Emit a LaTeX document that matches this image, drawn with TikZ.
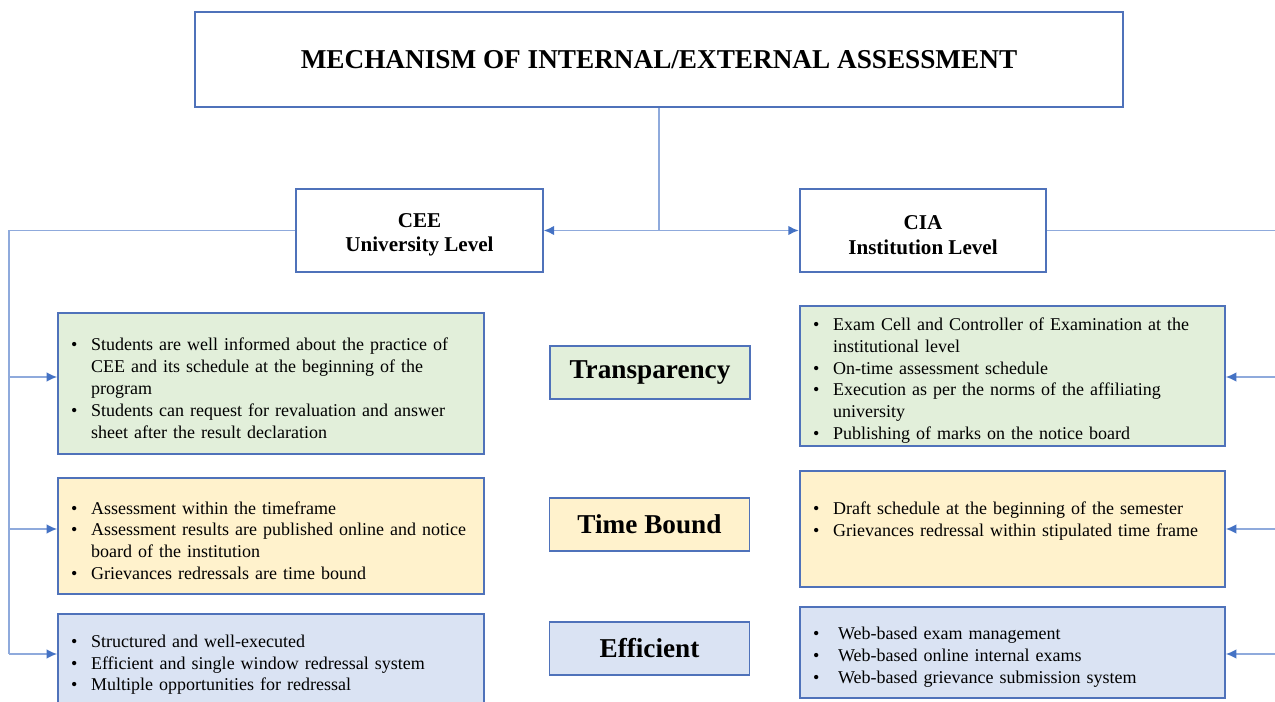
\documentclass[tikz,border=0pt]{standalone}
\usepackage{fontspec}
\setmainfont{Liberation Serif}
\usepackage{enumitem}
\usetikzlibrary{arrows.meta}
\definecolor{edgec}{RGB}{79,114,186}
\definecolor{linkc}{RGB}{143,170,220}
\definecolor{tipc}{RGB}{68,114,196}
\definecolor{grn}{RGB}{226,239,218}
\definecolor{ylw}{RGB}{255,242,204}
\definecolor{blu}{RGB}{218,227,243}
\setlist[itemize]{nosep,label=\textbullet,leftmargin=0.66cm,labelsep=0.27cm}

\begin{document}
\begin{tikzpicture}[x=0.02cm,y=-0.02cm,>={Latex[length=6pt,width=5.5pt,color=tipc]},
    lbl/.style={draw=edgec,line width=1pt,font=\fontsize{15.5}{18}\selectfont\bfseries,minimum width=4cm,minimum height=1.06cm},
    head/.style={draw=edgec,line width=1.1pt,font=\fontsize{12}{14}\selectfont\bfseries,align=center,minimum width=4.93cm,minimum height=1.66cm},
    info/.style={draw=edgec,line width=1pt,inner sep=0pt,align=left,font=\fontsize{10.25}{12.47}\selectfont},
    link/.style={draw=linkc,line width=1pt}]
        \path[use as bounding box] (0,0) rectangle (1275,702);
        \clip (0,0) rectangle (1275,702);

        \node[draw=edgec,line width=1.1pt,minimum width=18.56cm,minimum height=1.9cm,font=\fontsize{15.5}{18}\selectfont\bfseries] (mech) at (659,59.5) {MECHANISM OF INTERNAL/EXTERNAL ASSESSMENT};
        \node[head] (cee) at (419.5,230.5) {\rule{0pt}{13pt}CEE\\University Level};
        \node[head] (cia) at (923,230.5) {\rule{0pt}{13pt}CIA\\Institution Level};

        \node[lbl,fill=grn] (trans) at (650,372.5) {Transparency};
        \node[lbl,fill=ylw] (time) at (649.5,524.5) {Time Bound};
        \node[lbl,fill=blu] (effi) at (649.5,648.5) {Efficient};

        \node[info,fill=grn,text width=8.52cm,minimum height=2.82cm] (ltrans) at (271,383.5) {\begin{itemize}
            \item Students are well informed about the practice of\newline CEE and its schedule at the beginning of the\newline program
            \item Students can request for revaluation and answer\newline sheet after the result declaration
        \end{itemize}};
        \node[info,fill=ylw,text width=8.52cm,minimum height=2.32cm] (ltime) at (271,536) {\begin{itemize}
            \item Assessment within the timeframe
            \item Assessment results are published online and notice\newline board of the institution
            \item Grievances redressals are time bound
        \end{itemize}};
        \node[info,fill=blu,text width=8.52cm,minimum height=1.84cm] (leffi) at (271,660) {\begin{itemize}
            \item Structured and well-executed
            \item Efficient and single window redressal system
            \item Multiple opportunities for redressal
        \end{itemize}};

        \node[info,fill=grn,text width=8.5cm,minimum height=2.8cm] (rtrans) at (1012.5,376) {\begin{itemize}
            \item Exam Cell and Controller of Examination at the\newline institutional level
            \item On-time assessment schedule
            \item Execution as per the norms of the affiliating\newline university
            \item Publishing of marks on the notice board
        \end{itemize}};
        \node[info,fill=ylw,text width=8.5cm,minimum height=2.32cm] (rtime) at (1012.5,529) {\begin{itemize}
            \item Draft schedule at the beginning of the semester
            \item Grievances redressal within stipulated time frame
        \end{itemize}\par\vspace{4pt}\null};
        \node[info,fill=blu,text width=8.5cm,minimum height=1.82cm] (reffi) at (1012.5,652.5) {\begin{itemize}[leftmargin=0.76cm,labelsep=0.37cm]
            \item Web-based exam management
            \item Web-based online internal exams
            \item Web-based grievance submission system
        \end{itemize}};

        \coordinate (hub) at (mech.south |- cee.east);
        \draw[link] (mech.south) -- (hub);
        \draw[link,->] (hub) -- (cee.east);
        \draw[link,->] (hub) -- (cia.west);

        \coordinate (ltop) at (9,230.5);
        \coordinate (l1) at (9,377);
        \coordinate (l2) at (9,529);
        \coordinate (l3) at (9,654);
        \draw[link] (cee.west) -- (ltop) -- (l3);
        \draw[link,->] (l1) -- (l1 -| ltrans.west);
        \draw[link,->] (l2) -- (l2 -| ltime.west);
        \draw[link,->] (l3) -- (l3 -| leffi.west);

        \coordinate (rtop) at (1275,230.5);
        \coordinate (r1) at (1275,377);
        \coordinate (r2) at (1275,529);
        \coordinate (r3) at (1275,654);
        \draw[link] (cia.east) -- (rtop);
        \draw[link,->] (r1) -- (r1 -| rtrans.east);
        \draw[link,->] (r2) -- (r2 -| rtime.east);
        \draw[link,->] (r3) -- (r3 -| reffi.east);
    \end{tikzpicture}
\end{document}
